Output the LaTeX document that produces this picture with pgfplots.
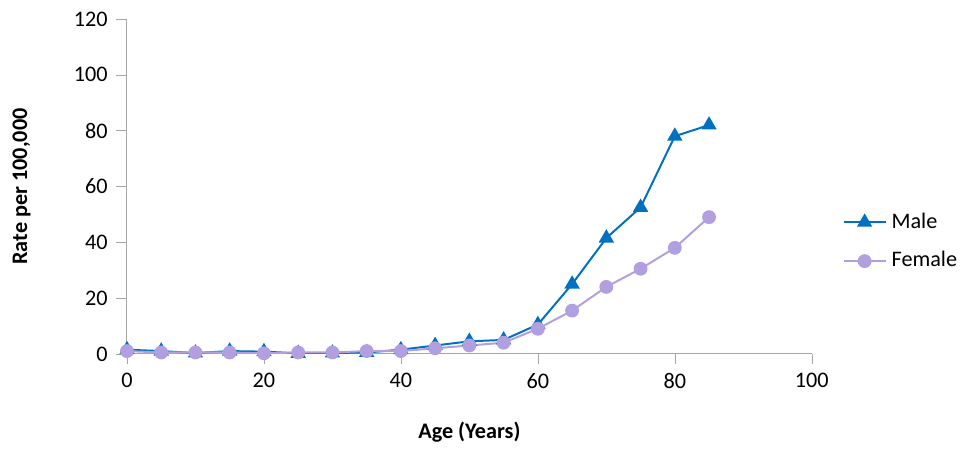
\documentclass[border=0pt]{standalone}
\usepackage{pgfplots}
\pgfplotsset{compat=1.18}
\usepackage{fontspec}
\setmainfont{Carlito}
\definecolor{male}{HTML}{0070C0}
\definecolor{female}{HTML}{B19FE0}
\begin{document}
\begin{tikzpicture}
\path (-1.809,-1.253) rectangle (11.89,5.041);
\begin{axis}[
  at={(0,0)}, anchor=origin,
  scale only axis, width=9.755cm, height=4.77cm,
  xmin=0, xmax=100, ymin=0, ymax=120,
  xtick={0,20,...,100}, ytick={0,20,...,120},
  axis x line=bottom, axis y line=left,
  axis line style={-, gray!70},
  tick style={gray!70}, tick align=outside,
  x tick label style={font=\small}, y tick label style={font=\small},
  /pgf/number format/assume math mode=true,
  xlabel={\textbf{Age (Years)}}, ylabel={\textbf{Rate per 100,000}},
  xlabel style={font=\small, at={(axis description cs:0.5,0)}, anchor=center, yshift=-1.12cm},
  ylabel style={font=\small, at={(axis description cs:0,0.5)}, anchor=center, yshift=1.5cm},
  legend style={at={(1.045,0.335)}, anchor=west, draw=none, font=\small, row sep=4pt, inner sep=0pt, outer sep=0pt},
  legend cell align=left,
]
\addplot[male, thick, mark=triangle*, mark size=2.8pt] coordinates {
(0,1.5)(5,1)(10,0.3)(15,1)(20,0.8)(25,0.2)(30,0.3)(35,0.5)(40,1.5)(45,3)(50,4.5)(55,5)(60,10.5)(65,25)(70,41.5)(75,52.5)(80,78)(85,82)};
\addlegendentry{Male}
\addplot[female, thick, mark=*, mark size=2.4pt] coordinates {
(0,1)(5,0.5)(10,0.5)(15,0.5)(20,0.2)(25,0.5)(30,0.5)(35,1)(40,1)(45,2)(50,3)(55,4)(60,9)(65,15.5)(70,24)(75,30.5)(80,38)(85,49)};
\addlegendentry{Female}
\end{axis}
\end{tikzpicture}
\end{document}
